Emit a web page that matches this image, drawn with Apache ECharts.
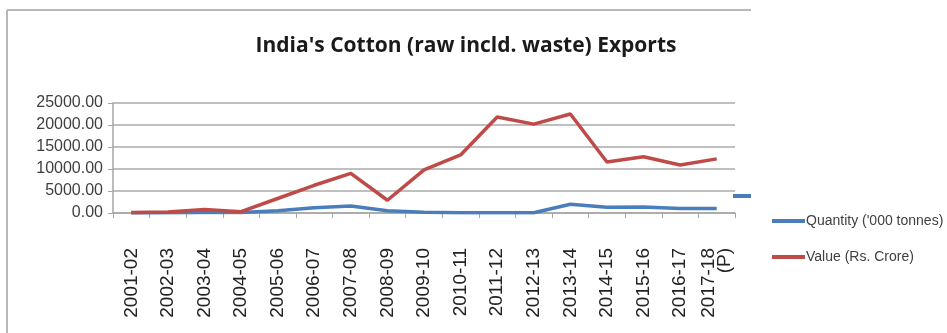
<!DOCTYPE html>
<html>
<head>
<meta charset="utf-8">
<script src="https://cdn.jsdelivr.net/npm/echarts@6/dist/echarts.min.js"></script>
<style>
  html, body { margin: 0; padding: 0; background: #fff; }
  #graph { width: 947px; height: 333px; }
</style>
</head>
<body>
<div id="graph"></div>
<script>
const years = ['2001-02', '2002-03', '2003-04', '2004-05', '2005-06', '2006-07', '2007-08', '2008-09',
  '2009-10', '2010-11', '2011-12', '2012-13', '2013-14', '2014-15', '2015-16', '2016-17', '2017-18\n(P)'];
const quantity = [10, 30, 120, 100, 500, 1200, 1600, 500, 150, 60, 60, 60, 2000, 1300, 1350, 1050, 1050];
const value = [100, 200, 800, 300, 3300, 6300, 9000, 2900, 9800, 13200, 21800, 20200, 22500, 11600, 12800, 10900, 12300];
const yTicks = [0, 5000, 10000, 15000, 20000, 25000];

const charts = echarts.init(document.getElementById('graph'));
charts.setOption({
  animation: false,
  title: {
    text: "India's Cotton (raw incld. waste) Exports",
    left: 461,
    top: 31,
    textAlign: 'center',
    textStyle: { fontFamily: 'Open Sans', fontWeight: 'bold', fontSize: 21, color: '#1a1a1a' },
  },
  legend: {
    orient: 'vertical',
    left: 767,
    top: 209,
    itemGap: 22,
    itemWidth: 33,
    itemHeight: 4,
    icon: 'rect',
    textStyle: { fontFamily: 'Liberation Sans', fontSize: 14, color: '#404040', padding: [0, 0, 0, -4] },
    data: ["Quantity ('000 tonnes)", 'Value (Rs. Crore)'],
  },
  grid: { left: 113, right: 212, top: 103, bottom: 120, containLabel: false },
  xAxis: {
    type: 'category',
    data: years,
    boundaryGap: true,
    axisLine: { lineStyle: { color: '#a6a6a6', width: 1.5 } },
    axisTick: { show: true, length: 5, lineStyle: { color: '#a6a6a6' } },
    axisLabel: {
      interval: 0,
      rotate: 90,
      margin: 35,
      fontFamily: 'Liberation Sans',
      fontSize: 19,
      color: '#222',
      lineHeight: 16,
    },
  },
  yAxis: {
    type: 'value',
    min: yTicks[0],
    max: yTicks[yTicks.length - 1],
    interval: 5000,
    axisLine: { show: true, lineStyle: { color: '#a6a6a6', width: 1.5 } },
    axisTick: { show: true, length: 5, lineStyle: { color: '#a6a6a6' } },
    splitLine: { lineStyle: { color: '#bfbfbf', width: 2 } },
    axisLabel: {
      margin: 10,
      fontFamily: 'Liberation Sans',
      fontSize: 16,
      color: '#404040',
      formatter: (v) => v.toFixed(2),
    },
  },
  series: [
    {
      name: "Quantity ('000 tonnes)",
      type: 'line',
      data: quantity,
      symbol: 'none',
      color: '#4a7ebb',
      lineStyle: { width: 3.5, color: '#4a7ebb' },
    },
    {
      name: 'Value (Rs. Crore)',
      type: 'line',
      data: value,
      symbol: 'none',
      color: '#be4b48',
      lineStyle: { width: 3.5, color: '#be4b48' },
    },
  ],
  graphic: [
    { type: 'line', shape: { x1: 7, y1: 10, x2: 751, y2: 10 }, style: { stroke: '#b8b8b8', lineWidth: 2 } },
    { type: 'line', shape: { x1: 7, y1: 10, x2: 7, y2: 333 }, style: { stroke: '#b8b8b8', lineWidth: 2 } },
    { type: 'rect', shape: { x: 733, y: 194, width: 18, height: 4 }, style: { fill: '#4a7ebb' } },
  ],
});
</script>
</body>
</html>
